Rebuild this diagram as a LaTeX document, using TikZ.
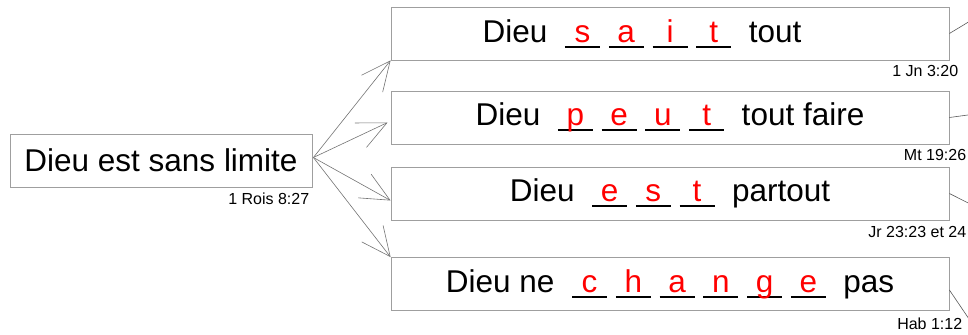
\documentclass[tikz,border=0pt]{standalone}
\usepackage{fontspec}
\setmainfont{Liberation Sans}
\usetikzlibrary{arrows.meta,positioning}

% one blank: black line with the red letter on it
\newcommand{\blank}[1]{\rlap{\rule[-5.5bp]{35bp}{1.8bp}}\makebox[35bp]{\color{red}#1}}

\tikzset{
  box/.style={draw=gray!75, line width=0.8bp, minimum height=53bp, inner sep=0pt,
    font=\fontsize{31.5bp}{36bp}\selectfont},
  bigbox/.style={box, minimum width=558bp},
  ref/.style={font=\fontsize{16bp}{18bp}\selectfont, inner sep=0pt, anchor=north east},
  link/.style={draw=gray!90!black, line width=0.6bp, -{Straight Barb[length=29bp,width=27bp]}},
  loose/.style={draw=gray!70!black, line width=0.6bp}
}

\begin{document}
\begin{tikzpicture}[x=1bp,y=-1bp]
\useasboundingbox (0,0) rectangle (968,334);
\clip (0,0) rectangle (968,334);

% the starting box
\node[box, minimum width=302bp] (a) at (161,160.5) {Dieu est sans limite};
\node[ref] (ra) at ([shift={(-3,5)}]a.south east) {1 Rois 8:27};

% the four boxes
\node[bigbox] (b1) at (670,33.5) {Dieu\ \ \blank{s}\ \blank{a}\ \blank{i}\ \blank{t}\ \ tout\hspace{56bp}\mbox{}};
\node[bigbox] (b2) at (670,117.5) {Dieu\ \ \blank{p}\ \blank{e}\ \blank{u}\ \blank{t}\ \ tout faire};
\node[bigbox] (b3) at (670,193.5) {Dieu\ \ \blank{e}\ \blank{s}\ \blank{t}\ \ partout};
\node[bigbox] (b4) at (670,284) {Dieu ne\ \ \blank{c}\ \blank{h}\ \blank{a}\ \blank{n}\ \blank{g}\ \blank{e}\ \ pas};

\node[ref] (r1) at ([shift={(9,5)}]b1.south east) {1 Jn 3:20};
\node[ref] (r2) at ([shift={(17,5)}]b2.south east) {Mt 19:26};
\node[ref] (r3) at ([shift={(17,6)}]b3.south east) {Jr 23:23 et 24};
\node[ref] (r4) at ([shift={(13,7)}]b4.south east) {Hab 1:12};

% arrows from the starting box
\coordinate (s) at ([shift={(1,-3)}]a.east);
\draw[link] (s) -- (b1.south west);
\draw[link] (s) -- ([shift={(-3,5)}]b2.west);
\draw[link] (s) -- ([shift={(0,7)}]b3.west);
\draw[link] (s) -- (b4.north west);

% lines going off to the right
\coordinate (o1) at (990,9);
\coordinate (o2) at (990,112);
\coordinate (o3) at (990,214);
\coordinate (o4) at (990,350);
\draw[loose] (b1.east) -- (o1);
\draw[loose] (b2.east) -- (o2);
\draw[loose] (b3.east) -- (o3);
\draw[loose] ([shift={(0,6)}]b4.east) -- (o4);

\end{tikzpicture}
\end{document}
